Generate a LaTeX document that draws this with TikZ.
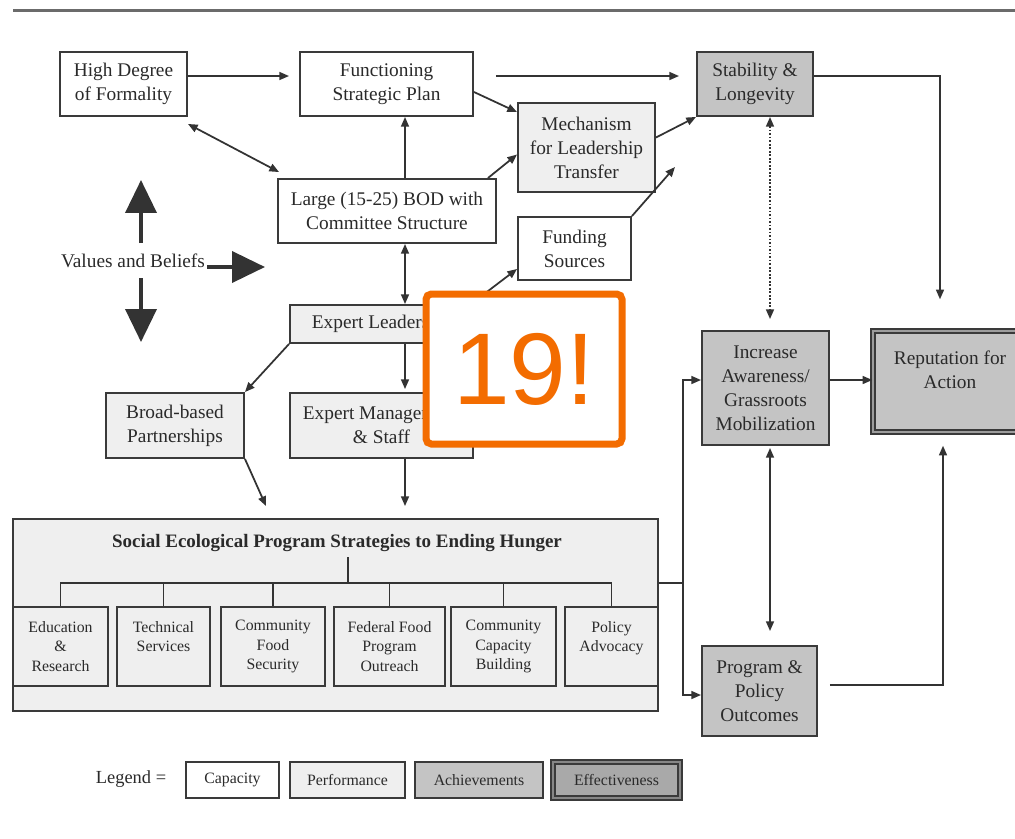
\documentclass[tikz,border=0pt]{standalone}
\usepackage{fontspec}
\setmainfont{Liberation Serif}
\newfontfamily\badgefont{Liberation Sans}
\usetikzlibrary{arrows.meta,calc}

\definecolor{linec}{HTML}{333333}
\definecolor{boxc}{HTML}{3A3A3A}
\definecolor{textc}{HTML}{2A2A2A}
\definecolor{perf}{HTML}{EFEFEF}
\definecolor{ach}{HTML}{C4C4C4}
\definecolor{effc}{HTML}{A9A9A9}
\definecolor{rulec}{HTML}{6B6B6B}
\definecolor{badgec}{HTML}{F36C00}

\begin{document}
\begin{tikzpicture}[x=0.02cm, y=-0.02cm,
    % Styles
    >={Triangle[length=5.5pt,width=4.5pt]},
    wh/.style 2 args={minimum width=#1*0.02cm, minimum height=#2*0.02cm},
    capbox/.style={draw=boxc, line width=1.1pt, fill=white, text=textc, align=center,
                   inner sep=1pt, font=\fontsize{11}{13.6}\selectfont},   % capacity
    perfbox/.style={capbox, fill=perf},                                  % performance
    achbox/.style={capbox, fill=ach},                                    % achievements
    effbox/.style={capbox, fill=ach, line width=0.8pt,
                   double=ach!80!black, double distance=1.6pt},           % effectiveness
    stratbox/.style={perfbox, font=\fontsize{9}{11.3}\selectfont},       % program strategies
    legbox/.style={line width=1.5pt, font=\fontsize{9}{11}\selectfont},
    conn/.style={draw=linec, line width=1pt},                            % connectors
    bigarr/.style={draw=linec, line width=2.2pt, -{Triangle[length=0.66cm,width=0.62cm]}}
]
  \useasboundingbox (0,0) rectangle (1015,839);

  % Top rule
  \draw[line width=0.06cm, draw=rulec] (13,10) -- (1015,10);

  % Top row
  \node[capbox, wh={127}{64}] (hdf) at (123.5,84) {High Degree\\of Formality};
  \node[capbox, wh={173}{64}] (fsp) at (386.5,84) {Functioning\\Strategic Plan};
  \node[achbox, wh={116}{64}] (sl)  at (755,84)   {Stability \&\\Longevity};

  % Board, leadership transfer and funding
  \node[perfbox, wh={137}{89}] (mlt) at (586.5,147.5) {Mechanism\\for Leadership\\Transfer};
  \node[capbox,  wh={218}{64}] (bod) at (387,211)     {Large (15-25) BOD with\\Committee Structure};
  \node[capbox,  wh={113}{63}] (fs)  at (574.5,248.5) {Funding\\Sources};

  % Values and beliefs
  \node[text=textc, font=\fontsize{11}{13.6}\selectfont, inner sep=0pt] (vb) at (133,261) {Values and Beliefs};
  \draw[bigarr] ($(vb)+(8,-18)$) -- ++(0,-63);
  \draw[bigarr] ($(vb)+(74,6)$) -- ++(58,0);
  \draw[bigarr] ($(vb)+(8,17)$) -- ++(0,64);

  % Leadership and staff
  \node[perfbox, wh={186}{38}] (el)  at (383,324)   {Expert Leadership};
  \node[perfbox, wh={138}{65}] (bbp) at (175,425.5) {Broad-based\\Partnerships};
  \node[perfbox, wh={183}{65}] (ems) at (381.5,425.5) {Expert Management\\\& Staff};

  % Program strategies
  \node[perfbox, wh={645}{192}] (seps) at (335.5,615) {};
  \node[text=textc, font=\bfseries\fontsize{10.8}{12}\selectfont] (title) at (337,543)
      {Social Ecological Program Strategies to Ending Hunger};
  \node[stratbox, wh={95}{79}]  (er)   at (60.5,646.5)  {Education\\\&\\Research};
  \node[stratbox, wh={93}{79}]  (ts)   at (163.5,646.5) {Technical\\Services\\~};
  \node[stratbox, wh={104}{79}] (cfs)  at (273,646.5)   {Community\\Food\\Security};
  \node[stratbox, wh={111}{79}] (ffpo) at (389.5,646.5) {Federal Food\\Program\\Outreach};
  \node[stratbox, wh={105}{79}] (ccb)  at (503.5,646.5) {Community\\Capacity\\Building};
  \node[stratbox, wh={93}{79}]  (pa)   at (611.5,646.5) {Policy\\Advocacy\\~};

  % Outcomes
  \node[achbox, wh={127}{114}] (iagm) at (765.5,388) {Increase\\Awareness/\\Grassroots\\Mobilization};
  \node[effbox, wh={154}{101}] (rfa)  at (950,381.5) {Reputation for\\Action\\~};
  \node[achbox, wh={115}{90}]  (ppo)  at (759.5,691) {Program \&\\Policy\\Outcomes};

  % Helper coordinates
  \coordinate (spine) at (405,0);
  \coordinate (mid)   at (770,0);
  \coordinate (hub)   at (348,583);
  \coordinate (bus)   at (683,583);
  \coordinate (fsend) at (675,167);

  % Connectors, top part
  \draw[conn,->] ($(hdf.east)+(0,-8)$) -- ($(fsp.west)+(-10,-8)$);
  \draw[conn,->] ($(fsp.east)+(22,-8)$) -- ($(sl.west)+(-17,-8)$);
  \draw[conn,->] ($(fsp.east)+(0,8)$) -- ($(mlt.north west)+(0,10)$);
  \draw[conn,<->] ($(hdf.south east)+(0,7)$) -- ($(bod.north west)+(2,-6)$);
  \draw[conn,->] (bod.north -| spine) -- (fsp.south -| spine);
  \draw[conn,->] ($(bod.north east)+(-9,0)$) -- ($(mlt.west)+(0,7)$);
  \draw[conn,->] ($(mlt.east)+(0,-10)$) -- (sl.south west);
  \draw[conn,->] (fs.north east) -- (fsend);
  \draw[conn,->] ($(sl.east)+(0,-8)$) -| ($(rfa.north)+(-10,-31)$);
  \draw[conn,<->,densely dotted] (sl.south -| mid) -- ($(iagm.north -| mid)+(0,-11)$);

  % Connectors, leadership
  \draw[conn,<->] (bod.south -| spine) -- (el.north -| spine);
  \draw[conn,->] (el.south west) -- (bbp.north east);
  \draw[conn,->] (el.south -| spine) -- ($(ems.north -| spine)+(0,-3)$);
  \draw[conn,->] ($(el.north east)+(-6,0)$) -- ($(fs.south west)+(0,-12)$);
  \draw[conn,->] (bbp.south east) -- ($(seps.north west)+(254,-12)$);
  \draw[conn,->] (ems.south -| spine) -- ($(seps.north -| spine)+(0,-12)$);

  % Strategy tree
  \draw[conn] (hub) -- ++(0,-26);
  \draw[conn] (er.north) |- (hub) -| (pa.north);
  \foreach \n in {ts,cfs,ffpo,ccb} {
    \draw[conn] (\n.north) -- (\n.north |- hub);
  }

  % Connectors, outcomes
  \draw[conn] (seps.east |- bus) -- (bus);
  \draw[conn,->] (bus) |- ($(iagm.west)+(0,-8)$);
  \draw[conn,->] (bus) |- ($(ppo.west)+(0,4)$);
  \draw[conn,->] ($(iagm.east)+(0,-8)$) coordinate (ia) -- (ia -| rfa.west);
  \draw[conn,<->] ($(iagm.south -| mid)+(0,2)$) -- ($(ppo.north -| mid)+(0,-14)$);
  \draw[conn,->] ($(ppo.east)+(12,-6)$) -| ($(rfa.south)+(-7,13)$);

  % Legend
  \node[text=textc, font=\fontsize{10.5}{12}\selectfont] (lg) at (131,779) {Legend =};
  \node[capbox,  legbox, wh={93}{36}]  (lcap) at (232.5,780) {Capacity};
  \node[perfbox, legbox, wh={115}{36}] (lper) at (347.5,780) {Performance};
  \node[achbox,  legbox, wh={128}{36}] (lach) at (479,780)   {Achievements};
  \node[effbox, font=\fontsize{9}{11}\selectfont, fill=effc, line width=1pt,
        double=effc!80!black, wh={127}{36}] (leff) at (616.5,780) {Effectiveness};

  % Badge
  \node[draw=badgec, line width=0.14cm, fill=white, rounded corners=3pt, wh={196}{150},
        text=badgec, inner sep=0pt, font=\badgefont\fontsize{58}{58}\selectfont]
        (badge) at (524,369) {19!};

\end{tikzpicture}
\end{document}
